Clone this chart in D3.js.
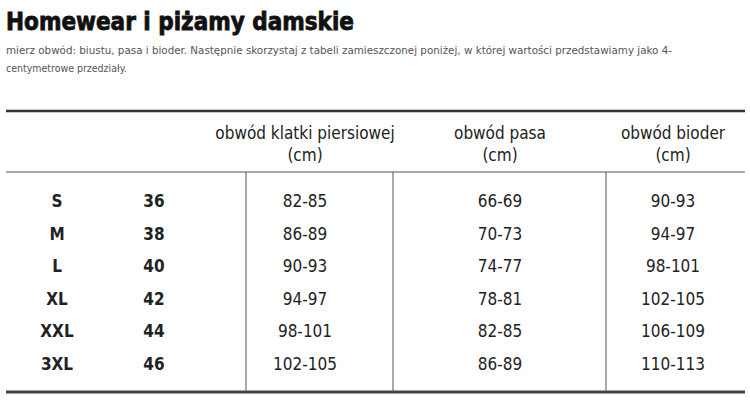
<!DOCTYPE html>
<html><head><meta charset="utf-8">
<script src="https://cdn.jsdelivr.net/npm/d3@7"></script>
<style>body{margin:0;background:#fff}</style></head>
<body><svg id="c" width="750" height="402"></svg>
<script>
const sizes=["S","M","L","XL","XXL","3XL"];
const euSizes=["36","38","40","42","44","46"];
const chest=["82-85","86-89","90-93","94-97","98-101","102-105"];
const waist=["66-69","70-73","74-77","78-81","82-85","86-89"];
const hips=["90-93","94-97","98-101","102-105","106-109","110-113"];
const headers=[["obwód klatki piersiowej","(cm)"],["obwód pasa","(cm)"],["obwód bioder","(cm)"]];

const svg=d3.select("#c");
const f="'DejaVu Sans Condensed',sans-serif";
svg.append("text").attr("x",6).attr("y",30).attr("font-family",f).attr("font-weight","bold")
 .attr("font-size",25).attr("fill","#111").attr("stroke","#111").attr("stroke-width",0.8)
 .attr("textLength",348).attr("lengthAdjust","spacingAndGlyphs").text("Homewear i piżamy damskie");
svg.append("text").attr("x",6).attr("y",54).attr("font-family",f).attr("font-size",10.5).attr("fill","#555")
 .attr("textLength",666).attr("lengthAdjust","spacingAndGlyphs")
 .text("mierz obwód: biustu, pasa i bioder. Następnie skorzystaj z tabeli zamieszczonej poniżej, w której wartości przedstawiamy jako 4-");
svg.append("text").attr("x",6).attr("y",72).attr("font-family",f).attr("font-size",10.5).attr("fill","#555").text("centymetrowe przedziały.");

const y=d3.scalePoint().domain(sizes).range([201,364]);
const colX=[305,500,673];
svg.append("line").attr("x1",6).attr("x2",745).attr("y1",111).attr("y2",111).attr("stroke","#333").attr("stroke-width",2.5);
svg.append("line").attr("x1",6).attr("x2",745).attr("y1",172).attr("y2",172).attr("stroke","#555").attr("stroke-width",1);
svg.append("line").attr("x1",6).attr("x2",745).attr("y1",392).attr("y2",392).attr("stroke","#444").attr("stroke-width",3);
[246,393,606].forEach(x=>svg.append("line").attr("x1",x).attr("x2",x).attr("y1",172).attr("y2",391).attr("stroke","#555").attr("stroke-width",1));
headers.forEach((h,i)=>h.forEach((t,j)=>svg.append("text").attr("x",colX[i]).attr("y",139+j*22).attr("text-anchor","middle")
 .attr("font-family",f).attr("font-size",17).attr("fill","#222").text(t)));
const g=svg.append("g").attr("font-family",f).attr("font-size",17).attr("fill","#222");
sizes.forEach((s,i)=>{
 const yy=y(s)+6;
 g.append("text").attr("x",57).attr("y",yy).attr("text-anchor","middle").attr("font-weight","bold").text(s);
 g.append("text").attr("x",154).attr("y",yy).attr("text-anchor","middle").attr("font-weight","bold").text(euSizes[i]);
 [chest,waist,hips].forEach((arr,k)=>g.append("text").attr("x",colX[k]).attr("y",yy).attr("text-anchor","middle").text(arr[i]));
});
</script></body></html>
